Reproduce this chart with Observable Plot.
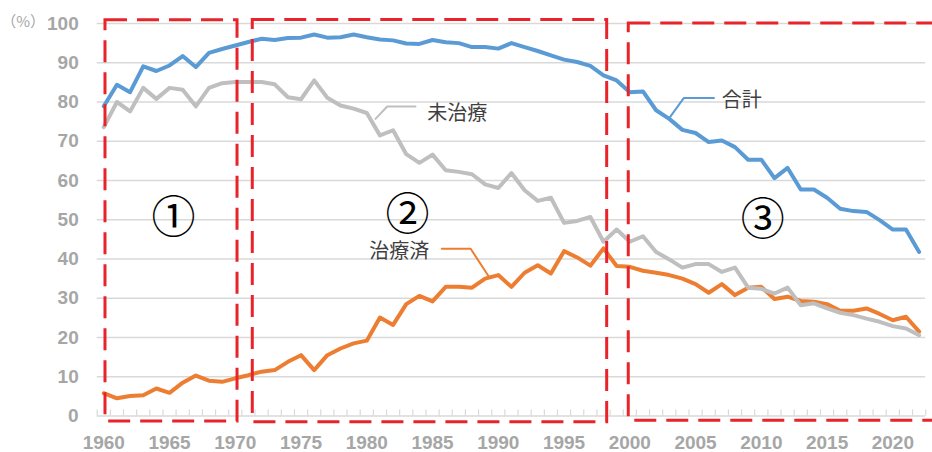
<!DOCTYPE html>
<html>
<head>
<meta charset="utf-8">
<script src="https://cdn.jsdelivr.net/npm/d3@7"></script>
<script src="https://cdn.jsdelivr.net/npm/@observablehq/plot@0.6"></script>
<style>
  html, body { margin: 0; padding: 0; background: #ffffff; }
  #chart svg { display: block; }
</style>
</head>
<body>
<div id="chart"></div>
<script>
// ---- data ----
const years = d3.range(1960, 2023);
const total = [78.9,84.4,82.5,89.1,87.9,89.3,91.7,88.9,92.5,93.5,
  94.4,95.3,96.1,95.8,96.3,96.4,97.2,96.4,96.5,97.2,
  96.5,95.9,95.7,94.9,94.8,95.8,95.2,95.0,94.0,94.0,
  93.6,95.0,94.0,93.0,91.9,90.8,90.2,89.2,86.8,85.5,
  82.5,82.7,77.9,75.7,72.9,72.1,69.8,70.2,68.5,65.3,
  65.3,60.6,63.2,57.7,57.7,55.6,52.8,52.2,52.0,49.9,
  47.5,47.5,41.8];
const untreated = [73.6,80.0,77.6,83.6,80.8,83.6,83.1,78.9,83.6,84.8,
  85.1,85.1,85.1,84.5,81.2,80.7,85.5,81.1,79.1,78.3,
  77.2,71.5,72.8,66.7,64.5,66.6,62.6,62.2,61.6,59.0,
  58.1,61.9,57.5,54.8,55.6,49.2,49.7,50.7,44.4,47.5,
  44.4,45.8,41.8,39.9,37.8,38.7,38.7,36.7,37.8,32.7,
  32.4,31.2,32.7,28.2,28.7,27.4,26.3,25.7,24.8,24.0,
  22.9,22.3,20.6];
const treated = [5.8,4.5,5.1,5.3,7.0,5.9,8.5,10.3,9.0,8.7,
  9.6,10.4,11.3,11.7,13.8,15.5,11.7,15.5,17.2,18.5,
  19.2,25.1,23.2,28.5,30.6,29.2,32.9,32.9,32.7,35.0,
  35.9,32.9,36.5,38.4,36.3,42.0,40.4,38.3,42.7,38.2,
  38.0,37.0,36.5,35.9,35.0,33.6,31.4,33.6,30.8,32.7,
  32.9,29.8,30.4,29.3,29.1,28.5,26.8,26.8,27.4,26.0,
  24.4,25.3,21.5];
const xTicks = [1960,1965,1970,1975,1980,1985,1990,1995,2000,2005,2010,2015,2020];
const yTicks = [0,10,20,30,40,50,60,70,80,90,100];
const seriesNames = ["合計", "未治療", "治療済"];
const periodLabels = ["①", "②", "③"];
const unitLabel = ["（%）"];

// annotation geometry (data units)
const periods = [
  {label: periodLabels[0], x1: 1960.13, x2: 1970.17, y1: -1.4, y2: 100.8, lx: 1965.3, ly: 50.3},
  {label: periodLabels[1], x1: 1971.33, x2: 1998.28, y1: -1.6, y2: 100.9, lx: 1983.1, ly: 51.0},
  {label: periodLabels[2], x1: 1999.92, x2: 2023.6, y1: -1.2, y2: 100.0, lx: 2010.1, ly: 49.6}
];
const labelsStart = [
  {text: seriesNames[0], x: 2007.0, y: 80.4},
  {text: seriesNames[1], x: 1984.6, y: 77.0}
];
const labelsEnd = [
  {text: seriesNames[2], x: 1984.75, y: 42.0}
];
const leaders = [
  {k: 0, x: 2002.96, y: 75.7}, {k: 0, x: 2004.1, y: 81.0}, {k: 0, x: 2006.4, y: 81.0},
  {k: 1, x: 1980.66, y: 75.7}, {k: 1, x: 1981.55, y: 78.85}, {k: 1, x: 1983.7, y: 78.85},
  {k: 2, x: 1985.7, y: 42.6}, {k: 2, x: 1987.9, y: 42.6}, {k: 2, x: 1989.3, y: 35.4}
];
const leaderColors = ["#5b9bd5", "#bfbfbf", "#ed7d31"];

// ---- table ----
const rows = years.map((yr, i) => ({year: yr, total: total[i], untreated: untreated[i], treated: treated[i]}));
const bounds = d3.range(1959.5, 2023, 1);

const jp = "'Noto Sans CJK JP', 'Noto Sans', sans-serif";
const axisFont = "'Liberation Sans', Arial, sans-serif";

const chart = Plot.plot({
  width: 932,
  height: 452,
  marginLeft: 96.7,
  marginRight: 6.8,
  marginTop: 23,
  marginBottom: 36.5,
  x: {domain: [1959.5, 2022.5], axis: null},
  y: {domain: [0, 100], axis: null},
  style: {background: "#ffffff", overflow: "hidden"},
  marks: [
    Plot.ruleY(yTicks.filter(d => d > 0), {y: d => d, stroke: "#d9d9d9", strokeWidth: 1.3}),
    Plot.ruleY([0], {stroke: "#d9d9d9", strokeWidth: 1.3}),
    Plot.ruleX(bounds, {x: d => d, y1: 0, y2: 1.55, stroke: "#d9d9d9", strokeWidth: 1.2}),
    Plot.text(yTicks, {y: d => d, text: d => String(d), frameAnchor: "left", dx: -18.5, textAnchor: "end",
      lineAnchor: "middle", fontSize: 19, fontWeight: "bold", fill: "#a6a6a6", fontFamily: axisFont}),
    Plot.text(xTicks, {x: d => d, text: d => String(d), frameAnchor: "bottom", dy: 27, textAnchor: "middle",
      lineAnchor: "middle", fontSize: 19, fontWeight: "bold", fill: "#a6a6a6", fontFamily: axisFont}),
    Plot.text(unitLabel, {frameAnchor: "top-left", dx: -96, dy: -1.5, textAnchor: "start",
      lineAnchor: "middle", fontSize: 15, fill: "#a6a6a6", fontFamily: jp}),
    Plot.lineY(rows, {x: "year", y: "treated", stroke: "#ed7d31", strokeWidth: 4, strokeLinejoin: "round"}),
    Plot.lineY(rows, {x: "year", y: "untreated", stroke: "#bfbfbf", strokeWidth: 4, strokeLinejoin: "round"}),
    Plot.lineY(rows, {x: "year", y: "total", stroke: "#5b9bd5", strokeWidth: 4, strokeLinejoin: "round"}),
    Plot.line(leaders, {x: "x", y: "y", z: "k", stroke: d => leaderColors[d.k], strokeWidth: 2}),
    Plot.text(labelsStart, {x: "x", y: "y", text: "text", textAnchor: "start",
      fontSize: 20, fill: "#404040", fontFamily: jp}),
    Plot.text(labelsEnd, {x: "x", y: "y", text: "text", textAnchor: "end",
      fontSize: 20, fill: "#404040", fontFamily: jp}),
    Plot.rect(periods, {x1: "x1", x2: "x2", y1: "y1", y2: "y2", fill: "none",
      stroke: "#e8242a", strokeWidth: 3, strokeDasharray: "22,10"}),
    Plot.text(periods, {x: "lx", y: "ly", text: "label", fontSize: 44, fill: "#000000", fontFamily: jp})
  ]
});
document.getElementById("chart").appendChild(chart);
</script>
</body>
</html>
